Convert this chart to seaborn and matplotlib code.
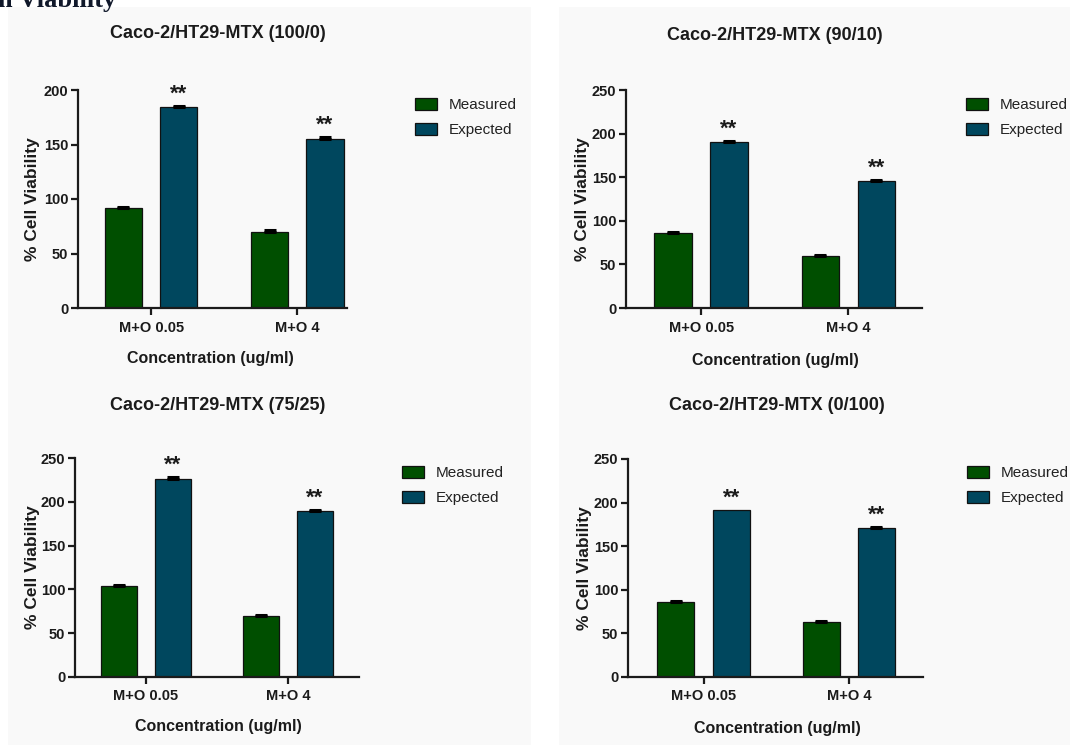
import matplotlib
matplotlib.use("Agg")
import matplotlib.pyplot as plt
from matplotlib.patches import Rectangle
import pandas as pd
import seaborn as sns

# ---- data -------------------------------------------------------------
concentrations = ["M+O 0.05", "M+O 4"]
groups = ["Measured", "Expected"]

panel_titles = [
    "Caco-2/HT29-MTX (100/0)",
    "Caco-2/HT29-MTX (90/10)",
    "Caco-2/HT29-MTX (75/25)",
    "Caco-2/HT29-MTX (0/100)",
]

measured_100_0 = [91.5, 70.0]
expected_100_0 = [184.0, 155.5]
measured_90_10 = [86.0, 60.0]
expected_90_10 = [190.5, 145.5]
measured_75_25 = [104.0, 70.0]
expected_75_25 = [226.5, 189.0]
measured_0_100 = [85.5, 63.5]
expected_0_100 = [191.0, 170.5]

measured_err = [[1.0, 1.5], [1.2, 1.3], [1.3, 1.3], [1.3, 1.0]]
expected_err = [[1.0, 1.2], [1.5, 1.5], [2.0, 2.0], [0.0, 1.8]]

y_max = [200, 250, 250, 250]
significance = "**"

measured_sets = [measured_100_0, measured_90_10, measured_75_25, measured_0_100]
expected_sets = [expected_100_0, expected_90_10, expected_75_25, expected_0_100]

# ---- style ------------------------------------------------------------
sns.set_style("ticks")
plt.rcParams["font.family"] = ["Liberation Sans", "DejaVu Sans"]
ink = "#1b1b1b"
palette = {"Measured": "#004f00", "Expected": "#00475e"}

W, H = 1070, 745
fig = plt.figure(figsize=(W / 100, H / 100), dpi=100, facecolor="white")

# light panel backgrounds, kept behind the axes
for x0, x1 in [(8, 531), (559, 1070)]:
    fig.patches.append(Rectangle((x0 / W, 0), (x1 - x0) / W, (H - 7) / H,
                                 transform=fig.transFigure,
                                 facecolor="#f9f9f9", edgecolor="none", zorder=-5))

# partially visible page heading
fig.text(-2 / W, 1 - 7 / H, "n Viability", family="Liberation Serif",
         weight="bold", fontsize=19, color="#10182a", ha="left", va="baseline")

# axes rectangles in pixels: left, bottom(from top), width, height
boxes = [
    (78, 308, 269, 218),
    (626, 308, 296, 218),
    (75, 677, 284, 219),
    (628, 677, 295, 218),
]
xlims = [(-0.5, 1.34), (-0.51, 1.5), (-0.5, 1.5), (-0.52, 1.51)]
title_xy = [(218, 33), (775, 35), (218, 405), (777, 405)]
xlabel_xy = [(210, 359), (775, 360), (218, 727), (777, 729)]
ylabel_x = [32, 583, 32, 585]
legend_xy = [(415, 98), (966, 98), (402, 466), (967, 466)]

for i in range(4):
    left, bottom_px, w, h = boxes[i]
    ax = fig.add_axes([left / W, (H - bottom_px) / H, w / W, h / H])
    ax.set_facecolor("none")

    df = pd.DataFrame({
        "Concentration": concentrations * 2,
        "Group": [groups[0]] * 2 + [groups[1]] * 2,
        "Viability": list(measured_sets[i]) + list(expected_sets[i]),
    })
    sns.barplot(data=df, x="Concentration", y="Viability", hue="Group",
                order=concentrations, hue_order=groups, palette=palette,
                saturation=1, width=0.76, gap=0.33, errorbar=None,
                edgecolor="#111111", linewidth=0.9, ax=ax, legend=True, zorder=2)

    # SEM error bars and significance marks on top of each drawn bar
    errs = [measured_err[i], expected_err[i]]
    for rect in list(ax.patches):
        if not isinstance(rect, Rectangle) or rect.get_height() <= 0:
            continue
        xc = rect.get_x() + rect.get_width() / 2
        ci = int(round(xc))
        gi = 0 if xc < ci else 1
        top = rect.get_height()
        e = errs[gi][ci]
        if e > 0:
            ax.errorbar(xc, top, yerr=[[0], [e]], fmt="none", ecolor="black",
                        elinewidth=2.2, capsize=4, capthick=2.2, zorder=3)
        if gi == 1:
            ax.annotate(significance, (xc, top + e), xytext=(0, 4.5),
                        textcoords="offset points", ha="center",
                        va="baseline", fontsize=16, weight="bold", color=ink)

    ax.set_xlim(*xlims[i])
    ax.set_ylim(0, y_max[i])
    ax.set_yticks(range(0, y_max[i] + 1, 50))
    sns.despine(ax=ax)
    for s in ("left", "bottom"):
        ax.spines[s].set_linewidth(1.6)
        ax.spines[s].set_color(ink)
    ax.tick_params(axis="both", direction="out", length=5, width=1.6,
                   color=ink, labelcolor=ink, labelsize=10.5)
    ax.tick_params(axis="y", pad=2)
    ax.tick_params(axis="x", pad=4)
    for lab in ax.get_xticklabels() + ax.get_yticklabels():
        lab.set_fontweight("bold")
    ax.set_xlabel("")
    ax.set_ylabel("")

    # legend placed to the right of the bars
    handles, labels = ax.get_legend_handles_labels()
    lx, ly = legend_xy[i]
    ax.legend(handles, labels, loc="upper left",
              bbox_to_anchor=(lx / W, 1 - ly / H), bbox_transform=fig.transFigure,
              frameon=False, fontsize=11, borderpad=0, borderaxespad=0,
              handlelength=1.45, handleheight=0.8, handletextpad=0.75,
              labelspacing=0.7, labelcolor="#222222")

    tx, ty = title_xy[i]
    fig.text(tx / W, 1 - ty / H, panel_titles[i], ha="center", va="center",
             fontsize=13, weight="bold", color=ink)
    xx, xy = xlabel_xy[i]
    fig.text(xx / W, 1 - xy / H, "Concentration (ug/ml)", ha="center",
             va="center", fontsize=11.5, weight="bold", color=ink)
    fig.text(ylabel_x[i] / W, 1 - (bottom_px - h / 2) / H, "% Cell Viability",
             ha="center", va="center", rotation=90, fontsize=12.5,
             weight="bold", color=ink)

fig.savefig("out.png", dpi=100, facecolor="white")
